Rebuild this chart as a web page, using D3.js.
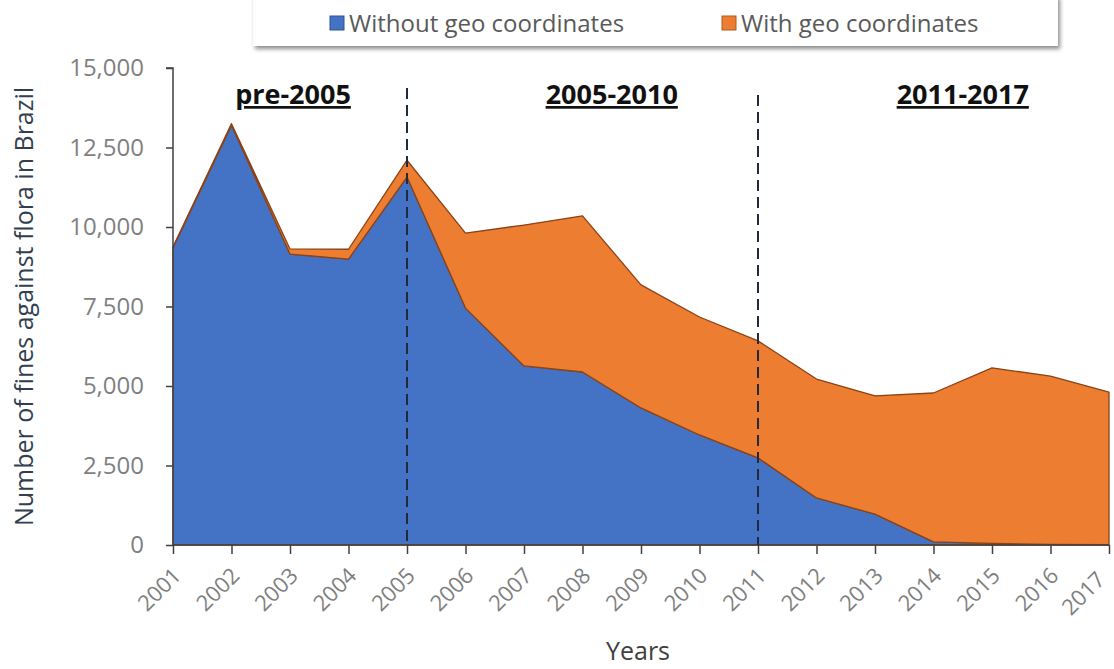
<!DOCTYPE html>
<html>
<head>
<meta charset="utf-8">
<script src="https://cdn.jsdelivr.net/npm/d3@7"></script>
<style>
  body { margin: 0; background: #fff; }
  text { font-family: "Open Sans", sans-serif; }
</style>
</head>
<body>
<div id="chart"></div>
<script>
// data
var years = [2001, 2002, 2003, 2004, 2005, 2006, 2007, 2008, 2009, 2010, 2011, 2012, 2013, 2014, 2015, 2016, 2017];
var withoutGeo = [9350, 13200, 9150, 8990, 11570, 7450, 5630, 5440, 4310, 3460, 2740, 1480, 970, 100, 50, 20, 10];
var withGeo = [30, 50, 160, 310, 530, 2360, 4430, 4910, 3870, 3710, 3680, 3740, 3720, 4680, 5520, 5290, 4800];
var seriesNames = ["Without geo coordinates", "With geo coordinates"];
var yTicks = [0, 2500, 5000, 7500, 10000, 12500, 15000];
var periods = [{label: "pre-2005", year: 2003}, {label: "2005-2010", year: 2008.5}, {label: "2011-2017", year: 2014.5}];
var dividers = [2005, 2011];

var width = 1114;
var height = 669;
var margin = {top: 68, bottom: 124, left: 173, right: 5};
var colors = ["#4472C4", "#ED7D31"];

var svg = d3.select("#chart").append("svg").attr("width", width).attr("height", height);

// drop shadow for legend box
var defs = svg.append("defs");
var filt = defs.append("filter").attr("id", "shadow").attr("x", "-5%").attr("y", "-30%").attr("width", "110%").attr("height", "170%");
filt.append("feDropShadow").attr("dx", 2).attr("dy", 3).attr("stdDeviation", 2).attr("flood-color", "#000").attr("flood-opacity", 0.45);

var xscale = d3.scaleLinear()
    .domain([years[0], years[years.length - 1]])
    .range([margin.left, width - margin.right]);

var yscale = d3.scaleLinear()
    .domain([0, 15000])
    .range([height - margin.bottom, margin.top]);

// stacked areas
var table = years.map(function(y, i) {
    return {year: y, a: withoutGeo[i], b: withGeo[i]};
});
var stack = d3.stack().keys(["a", "b"]);
var layers = stack(table);

var area = d3.area()
    .x(function(d) { return xscale(d.data.year); })
    .y0(function(d) { return yscale(d[0]); })
    .y1(function(d) { return yscale(d[1]); });

svg.selectAll(".layer").data(layers).enter().append("path")
    .attr("class", "layer")
    .attr("d", area)
    .attr("fill", function(d, i) { return colors[i]; })
    .attr("stroke", "#8a4316")
    .attr("stroke-width", 1.3)
    .attr("stroke-linejoin", "round");

// y axis
var yaxis = d3.axisLeft(yscale)
    .tickValues(yTicks)
    .tickSize(7)
    .tickFormat(d3.format(","));
var gy = svg.append("g")
    .attr("transform", "translate(" + margin.left + ",0)")
    .call(yaxis);
gy.select(".domain").attr("stroke", "#404040").attr("stroke-width", 1.5).attr("d", "M0," + yscale(0) + "V" + yscale(15000) + "H-7");
gy.selectAll(".tick line").attr("stroke", "#404040").attr("stroke-width", 1.5);
gy.selectAll(".tick text")
    .attr("x", -29)
    .style("font-size", "24px")
    .attr("fill", "#7f7f7f");

// x axis
var xaxis = d3.axisBottom(xscale)
    .tickValues(years)
    .tickSize(9)
    .tickFormat(d3.format("d"));
var gx = svg.append("g")
    .attr("transform", "translate(0," + (height - margin.bottom) + ")")
    .call(xaxis);
gx.select(".domain").attr("stroke", "#404040").attr("stroke-width", 1.5).attr("d", "M" + xscale(years[0]) + ",0H" + xscale(years[years.length - 1]));
gx.selectAll(".tick line").attr("stroke", "#404040").attr("stroke-width", 1.5);
gx.selectAll(".tick text")
    .style("font-size", "22px")
    .attr("fill", "#7f7f7f")
    .attr("text-anchor", "end")
    .attr("y", 0)
    .attr("dy", 0)
    .attr("transform", function(d, i) {
        // last label pulled in so it stays inside the page
        return i == years.length - 1 ? "translate(-3,36) rotate(-45)" : "translate(9,32) rotate(-45)";
    });

// dashed dividers
svg.selectAll(".divider").data(dividers).enter().append("line")
    .attr("class", "divider")
    .attr("x1", function(d) { return xscale(d); })
    .attr("x2", function(d) { return xscale(d); })
    .attr("y1", function(d, i) { return i == 0 ? 88 : 95; })
    .attr("y2", yscale(0))
    .attr("stroke", "#1f2a3a")
    .attr("stroke-width", 2)
    .attr("stroke-dasharray", "11,6");

// period labels
svg.selectAll(".period").data(periods).enter().append("text")
    .attr("class", "period")
    .attr("x", function(d) { return xscale(d.year) + (d.year == 2003 ? 3 : 0); })
    .attr("y", 104)
    .attr("text-anchor", "middle")
    .style("font-size", "27px")
    .style("font-weight", "bold")
    .style("text-decoration", "underline")
    .attr("fill", "#111")
    .text(function(d) { return d.label; });

// axis titles
svg.append("text")
    .text("Number of fines against flora in Brazil")
    .attr("text-anchor", "middle")
    .style("font-size", "25px")
    .attr("fill", "#333f50")
    .attr("transform", "translate(33," + ((margin.top + height - margin.bottom) / 2) + ") rotate(-90)");

svg.append("text")
    .text("Years")
    .attr("x", 638)
    .attr("y", 660)
    .attr("text-anchor", "middle")
    .style("font-size", "25px")
    .attr("fill", "#404040");

// legend
var legend = svg.append("g");
legend.append("rect")
    .attr("x", 253).attr("y", -5)
    .attr("width", 805).attr("height", 51)
    .attr("fill", "#fff")
    .attr("filter", "url(#shadow)");
var legendX = [330, 722];
seriesNames.forEach(function(name, i) {
    legend.append("rect")
        .attr("x", legendX[i]).attr("y", 16)
        .attr("width", 14).attr("height", 14)
        .attr("fill", colors[i])
        .attr("stroke", i == 0 ? "#2f528f" : "#ae5a21")
        .attr("stroke-width", 1);
    legend.append("text")
        .attr("x", legendX[i] + 19).attr("y", 32)
        .style("font-size", "24px")
        .attr("fill", "#595959")
        .text(name);
});
</script>
</body>
</html>
